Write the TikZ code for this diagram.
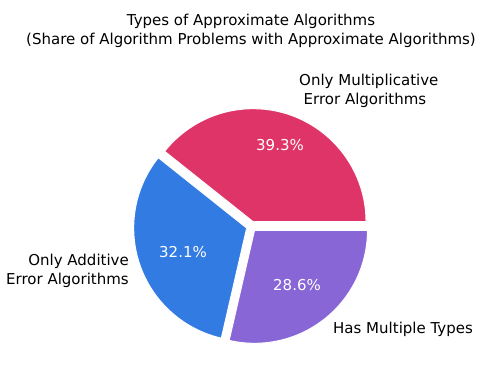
\documentclass[tikz,border=0pt]{standalone}
\usepackage{fontspec}
\setmainfont{DejaVu Sans}
\usepackage{xcolor}
\usepackage{tikz}
\usetikzlibrary{arrows.meta, positioning}
\definecolor{multred}{RGB}{223,52,104}
\definecolor{addblue}{RGB}{50,123,226}
\definecolor{bothpurple}{RGB}{136,102,214}

\begin{document}
\begin{tikzpicture}[
			x=1pt, y=1pt,
			slice/.style={draw=white, line width=1pt, line join=round},
			label/.style={font=\fontsize{15}{19}\selectfont, inner sep=0pt},
			pct/.style={font=\fontsize{15}{18}\selectfont, text=white, inner sep=0pt}
		]
		\useasboundingbox (0,0) rectangle (483,382);

		% Draw the title
		\node[label, align=center] (title) at (251,351) {Types of Approximate Algorithms\\(Share of Algorithm Problems with Approximate Algorithms)};

		% Draw the slices
		\coordinate (center) at (251.4,155.6);
		\draw[slice, fill=multred] ([shift={(70.74:5)}]center) -- ++(0:113pt) arc[start angle=0, end angle=141.48, radius=113pt] -- cycle;
		\draw[slice, fill=addblue] ([shift={(199.26:5)}]center) -- ++(141.48:113pt) arc[start angle=141.48, end angle=257.04, radius=113pt] -- cycle;
		\draw[slice, fill=bothpurple] ([shift={(308.52:5)}]center) -- ++(257.04:113pt) arc[start angle=257.04, end angle=360, radius=113pt] -- cycle;

		% Draw the percentages
		\node[pct] (multpct) at (280,237) {39.3\%};
		\node[pct] (addpct) at (183,130) {32.1\%};
		\node[pct] (bothpct) at (297,97) {28.6\%};

		% Draw the labels
		\node[label, align=left, anchor=west] (multlabel) at (299,291) {Only Multiplicative\\\hspace{4.5pt}Error Algorithms};
		\node[label, align=right, anchor=east] (addlabel) at (129,111) {Only Additive\\Error Algorithms};
		\node[label, anchor=west] (bothlabel) at (333,53) {Has Multiple Types};

		\end{tikzpicture}
\end{document}
